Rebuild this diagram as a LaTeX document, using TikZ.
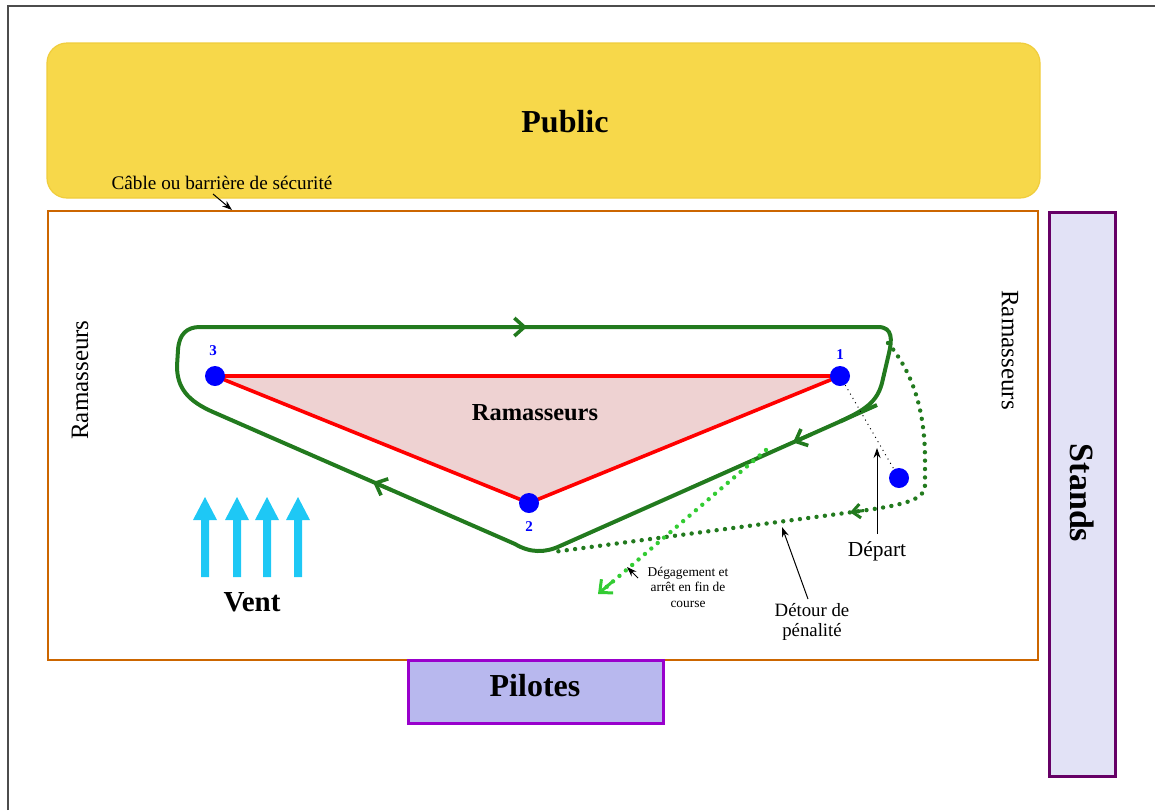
\documentclass[tikz,border=0pt]{standalone}
\usepackage{fontspec}
\setmainfont{Liberation Serif}
\usetikzlibrary{arrows.meta}
\definecolor{pubyellow}{RGB}{247,216,74}
\definecolor{pubedge}{RGB}{240,205,60}
\definecolor{fieldorange}{RGB}{204,102,0}
\definecolor{standfill}{RGB}{226,226,246}
\definecolor{standedge}{RGB}{102,0,102}
\definecolor{pilfill}{RGB}{184,184,238}
\definecolor{piledge}{RGB}{153,0,204}
\definecolor{trifill}{RGB}{238,210,210}
\definecolor{trk}{RGB}{34,122,30}
\definecolor{ltgreen}{RGB}{51,204,51}
\definecolor{windcyan}{RGB}{30,200,245}
\tikzset{
  track/.style={draw=trk, line width=2pt, line join=round},
  chev/.style={draw=trk, line width=1.8pt, -{Straight Barb[length=5pt,width=9pt]}},
  dotline/.style={line width=2.2pt, line cap=round, dash pattern=on 0pt off 4.2pt},
  buoy/.style={circle, fill=blue, inner sep=0pt, minimum size=10pt},
  buoynum/.style={text=blue, font=\fontsize{7.5}{8}\selectfont\bfseries},
  pointer/.style={draw=black, line width=0.5pt, -{Stealth[length=5pt,width=3.5pt]}},
  bigbold/.style={font=\fontsize{16}{19}\selectfont\bfseries},
  windarrow/.style={fill=windcyan, draw=none}
}
\begin{document}
\begin{tikzpicture}[x=0.5pt,y=-0.5pt]
\useasboundingbox (0,0) rectangle (1155,810);
% page frame
\draw[gray!60!black, line width=0.6pt] (8,810) -- (8,6) -- (1155,6);
% Public
\filldraw[fill=pubyellow, draw=pubedge, line width=0.6pt, rounded corners=10pt] (47,43) rectangle (1040,198);
\node[bigbold] (public) at (565,122) {Public};
% field
\draw[fieldorange, line width=1.3pt] (48,211) rectangle (1038,660);
% cable label
\node[font=\fontsize{9.6}{11}\selectfont] (cable) at (222,183) {Câble ou barrière de sécurité};
\coordinate (cablept) at (232,210);
\draw[pointer] (213,194) -- (cablept);
% Stands
\filldraw[fill=standfill, draw=standedge, line width=1.5pt] (1049,212) rectangle (1115,776);
\node[bigbold, rotate=-90, font=\fontsize{17}{20}\selectfont\bfseries] (stands) at (1082,493) {Stands};
% Pilotes
\filldraw[fill=pilfill, draw=piledge, line width=1.5pt] (408,660) rectangle (663,723);
\node[bigbold] (pilotes) at (535,686) {Pilotes};
% side Ramasseurs
\node[rotate=90, font=\fontsize{12.5}{14}\selectfont] (ramL) at (80,380) {Ramasseurs};
\node[rotate=-90, font=\fontsize{12.5}{14}\selectfont] (ramR) at (1010,350) {Ramasseurs};
% triangle
\coordinate (p3) at (215,376);
\coordinate (p1) at (840,376);
\coordinate (p2) at (529,503);
\filldraw[fill=trifill, draw=red, line width=1.8pt, line join=round] (p3) -- (p1) -- (p2) -- cycle;
\node[font=\fontsize{12.2}{14}\selectfont\bfseries] (ramC) at (535,413) {Ramasseurs};
% track loop
\draw[track] (200,327) -- (878,327) .. controls (893,327) and (892,340) .. (889,353)
  -- (882,383) .. controls (877,402) and (865,410) .. (840,421.5)
  -- (560,546) .. controls (545,553) and (530,553) .. (515,544)
  -- (213,412) .. controls (188,401) and (177,388) .. (177,366)
  -- (178,350) .. controls (179,334) and (187,327) .. (200,327) -- cycle;
\draw[track] (877,405) -- (840,421.5);
% chevrons on track
\draw[chev] (510,327) -- (527,327);
\draw[chev] (391.3,490) -- (373,482);
\draw[chev] (811.3,434.3) -- (793,442.4);
% penalty detour
\draw[trk, dotline] (888,343) .. controls (915,375) and (925,415) .. (925,460) -- (925,485)
  .. controls (925,500) and (905,505) .. (853,512) -- (553,552);
\draw[draw=trk, line width=1.5pt, -{Straight Barb[length=4pt,width=7pt]}] (864,510.5) -- (850,512.3);
% exit line
\draw[ltgreen, dotline] (766,450) -- (603,590);
\draw[draw=ltgreen, line width=1.5pt, -{Straight Barb[length=5pt,width=9pt]}] (612,582) -- (598,594);
% buoys
\node[buoy] (b3) at (p3) {};
\node[buoy] (b1) at (p1) {};
\node[buoy] (b2) at (p2) {};
\node[buoy] (bd) at (899,478) {};
\draw[black, line width=0.5pt, dotted] (b1) -- (bd);
\node[buoynum] (n3) at (213,351) {3};
\node[buoynum] (n1) at (840,355) {1};
\node[buoynum] (n2) at (529,527) {2};
% Depart
\node[font=\fontsize{10.7}{12}\selectfont] (depart) at (877,551) {Départ};
\coordinate (departpt) at (877,448);
\draw[pointer] (depart.north) -- (departpt);
% Detour
\node[font=\fontsize{9.4}{10}\selectfont, align=center] (detour) at (812,622) {Détour de\\[-0.2pt]pénalité};
\coordinate (detourpt) at (782,527);
\draw[pointer] (808,599) -- (detourpt);
% Degagement
\node[font=\fontsize{6.7}{7.75}\selectfont, align=center] (degag) at (688,587) {Dégagement et\\arrêt en fin de\\course};
\coordinate (degagpt) at (627,567);
\draw[pointer] (638,578) -- (degagpt);
% wind
\foreach \x/\nm in {205/w1,237/w2,267/w3,298/w4}{
  \fill[windarrow] (\x-4,577) -- (\x-4,520) -- (\x-12,520) -- (\x,497) -- (\x+12,520) -- (\x+4,520) -- (\x+4,577) -- cycle;
}
\node[font=\fontsize{14.5}{16}\selectfont\bfseries] (vent) at (252,602) {Vent};
\end{tikzpicture}
\end{document}
